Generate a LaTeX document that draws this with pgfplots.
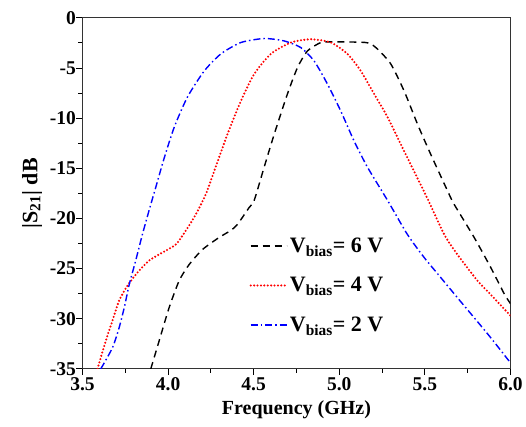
\documentclass[border=0pt]{standalone}
\usepackage{fontspec}
\setmainfont{Liberation Serif}
\usepackage{pgfplots}
\pgfplotsset{compat=1.18}
\begin{document}
\begin{tikzpicture}
\begin{axis}[
  scale only axis,
  width=428pt, height=351pt,
  xmin=3.5, xmax=6.0, ymin=-35, ymax=0,
  xtick={3.5,4.0,4.5,5.0,5.5,6.0},
  xticklabels={3.5,4.0,4.5,5.0,5.5,6.0},
  ytick={-35,-30,-25,-20,-15,-10,-5,0},
  minor x tick num=1, minor y tick num=1,
  tick align=outside,
  xtick pos=bottom, ytick pos=left,
  major tick length=6pt, minor tick length=4pt,
  tick style={black, line width=0.9pt},
  axis line style={line width=0.9pt, black!80},
  /pgf/number format/assume math mode=true,
  ticklabel style={font=\bfseries\fontsize{19.5}{21}\selectfont},
  yticklabel style={xshift=3pt},
  xticklabel style={yshift=1pt},
  title={\rule{0pt}{5pt}},
  xlabel={\bfseries\fontsize{20}{22}\selectfont Frequency (GHz)\rule[-9pt]{0pt}{0pt}},
  ylabel={\bfseries\fontsize{22}{24}\selectfont\rule{0pt}{34pt}|S\textsubscript{21}| dB},
  xlabel style={yshift=-3pt},
  ylabel style={yshift=1pt},
  legend style={draw=none, fill=none, at={(0.383,0.385)}, anchor=north west,
    font=\bfseries\fontsize{22}{24}\selectfont, row sep=19.5pt,
    legend cell align=left},
  legend image code/.code={\draw[#1] (0pt,0pt) -- (36pt,0pt);},
]
\addplot[black, line width=1.4pt, dash pattern=on 7pt off 5pt, smooth, tension=0.4] coordinates {
(3.899,-35) (3.948,-32.2) (4.006,-28.9) (4.065,-26.2) (4.123,-24.6) (4.201,-23.1) (4.298,-21.9) (4.366,-21.2) (4.405,-20.6) (4.474,-18.9) (4.503,-18.2) (4.561,-14.9) (4.62,-11.6) (4.697,-7.6) (4.756,-4.95) (4.814,-3.3) (4.892,-2.46) (4.95,-2.4) (5.05,-2.4) (5.15,-2.45) (5.184,-2.6) (5.223,-3.1) (5.301,-4.6) (5.379,-7.3) (5.457,-10.6) (5.534,-13.6) (5.65,-17.9) (5.671,-18.6) (5.788,-21.9) (5.885,-24.9) (5.963,-27.5) (6.0,-28.5)
};
\addlegendentry{V\textsubscript{bias}= 6 V}
\addplot[red, line width=2.3pt, dash pattern=on 0pt off 3.4pt, line cap=round, smooth, tension=0.4] coordinates {
(3.588,-35) (3.636,-32.2) (3.675,-30.2) (3.714,-28.2) (3.763,-26.7) (3.821,-25.4) (3.889,-24.2) (3.967,-23.4) (4.045,-22.6) (4.104,-21.2) (4.162,-19.6) (4.22,-17.6) (4.269,-15.3) (4.347,-11.6) (4.425,-8.3) (4.503,-5.6) (4.6,-3.6) (4.717,-2.46) (4.834,-2.13) (4.951,-2.46) (5.048,-3.6) (5.126,-5.3) (5.204,-7.6) (5.282,-9.9) (5.359,-12.6) (5.437,-15.3) (5.52,-18.2) (5.613,-21.6) (5.69,-23.6) (5.807,-26.2) (5.885,-27.6) (6.0,-29.7)
};
\addlegendentry{V\textsubscript{bias}= 4 V}
\addplot[blue, line width=1.4pt, dash pattern=on 7pt off 3pt on 1.5pt off 3pt, smooth, tension=0.4] coordinates {
(3.607,-35) (3.675,-32.9) (3.714,-30.9) (3.744,-28.9) (3.773,-26.6) (3.811,-24.2) (3.85,-21.6) (3.889,-19.2) (3.928,-16.9) (3.977,-14.0) (4.036,-10.9) (4.113,-7.9) (4.211,-5.3) (4.308,-3.6) (4.425,-2.46) (4.561,-2.06) (4.678,-2.3) (4.775,-2.96) (4.853,-4.3) (4.931,-6.6) (5.009,-9.3) (5.087,-12.3) (5.165,-14.9) (5.282,-18.2) (5.398,-21.6) (5.496,-23.9) (5.593,-25.9) (5.69,-27.9) (5.788,-29.9) (5.885,-31.9) (6.0,-34.4)
};
\addlegendentry{V\textsubscript{bias}= 2 V}
\end{axis}
\end{tikzpicture}
\end{document}
